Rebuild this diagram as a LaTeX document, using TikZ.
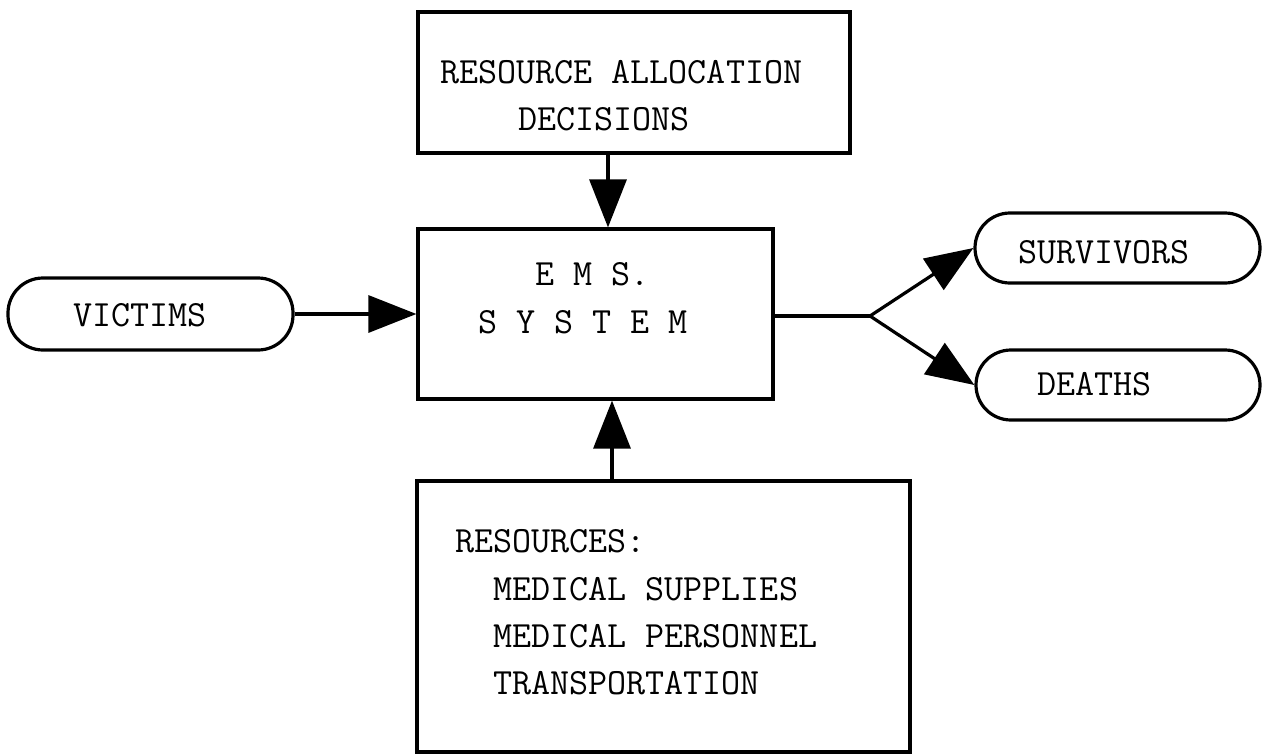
\documentclass[tikz,border=0pt]{standalone}
\usetikzlibrary{arrows.meta}
\begin{document}
\begin{tikzpicture}[x=1pt,y=-1pt,
  boxsq/.style={draw, line width=3.2pt, inner sep=0pt, minimum width=#1},
  boxrd/.style={draw, line width=3.2pt, inner sep=0pt, rounded corners=35pt},
  txt/.style={anchor=base west, inner sep=0pt, font=\ttfamily\fontsize{37}{47}\selectfont},
  conn/.style={line width=3.2pt},
  arr/.style={line width=3.2pt, -{Triangle[length=48pt,width=37pt]}}]
\useasboundingbox (0,0) rectangle (1264,755);
% boxes
\node[boxsq=432pt, minimum height=141pt] (top) at (634,82.5) {};
\node[boxsq=355pt, minimum height=170pt] (ems) at (595.5,314) {};
\node[boxrd, minimum width=285pt, minimum height=72pt] (victims) at (150.5,314) {};
\node[boxrd, minimum width=285pt, minimum height=70pt] (surv) at (1117.5,248) {};
\node[boxrd, minimum width=284pt, minimum height=70pt] (deaths) at (1118,385) {};
\node[boxsq=493pt, minimum height=271pt] (res) at (663.5,616.5) {};
% texts
\node[txt] (t1) at (440,83) {RESOURCE ALLOCATION};
\node[txt] (t2) at (518,130) {DECISIONS};
\node[txt] (e1) at (535,285) {E M S.};
\node[txt] (e2) at (478,333) {S Y S T E M};
\node[txt] (v1) at (73,326) {VICTIMS};
\node[txt] (s1) at (1018,263) {SURVIVORS};
\node[txt] (d1) at (1037,395) {DEATHS};
\node[txt] (r1) at (455,552) {RESOURCES:};
\node[txt] (r2) at (493,600) {MEDICAL SUPPLIES};
\node[txt] (r3) at (493,647) {MEDICAL PERSONNEL};
\node[txt] (r4) at (493,694) {TRANSPORTATION};
% connectors
\draw[arr] ([xshift=-26pt]top.south) -- ([xshift=-26pt]top.south |- ems.north);
\draw[arr] ([xshift=-51.5pt]res.north) -- ([xshift=-51.5pt]res.north |- ems.south);
\draw[arr] (victims.east) -- (victims.east -| ems.west);
\coordinate (br) at (870,316);
\draw[conn] (ems.east |- br) -- (br);
\draw[arr] (br) -- (surv.west);
\draw[arr] (br) -- (deaths.west);
\end{tikzpicture}
\end{document}
